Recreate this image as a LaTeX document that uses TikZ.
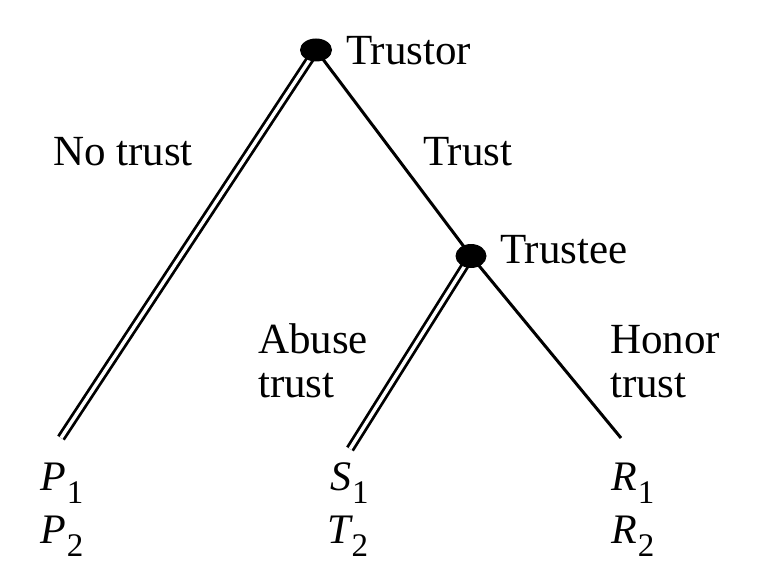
\documentclass[tikz,border=0pt]{standalone}
\usepackage{fontspec}
\setmainfont{Liberation Serif}
\usetikzlibrary{shapes.geometric,backgrounds}
\newcommand\mysub[1]{\kern1pt\raisebox{-13pt}{\fontsize{33}{33}\selectfont #1}}
\begin{document}
\begin{tikzpicture}[x=1pt,y=-1pt,
  lbl/.style={anchor=base west,inner sep=0pt,font=\fontsize{43}{46}\selectfont},
  pay/.style={anchor=base west,inner sep=0pt,font=\fontsize{42}{46}\selectfont\itshape},
  dot/.style={ellipse,fill=black,draw=none,inner sep=0pt,minimum width=#1},
  single/.style={line width=3pt},
  dbl/.style={line width=2.8pt,double,double distance=3.4pt}]
\useasboundingbox (0,0) rectangle (776,586);
% decision nodes
\node[dot=32pt,minimum height=23pt] (tor) at (316,50) {};
\node[dot=31pt,minimum height=24pt] (tee) at (471,256) {};
% end points
\coordinate (endP) at (61,438);
\coordinate (endS) at (350,449);
\coordinate (endR) at (621,438);
% branches
\begin{pgfonlayer}{background}
\draw[dbl] (tor.center) -- (endP);
\draw[single] (tor.center) -- (tee.center);
\draw[dbl] (tee.center) -- (endS);
\draw[single] (tee.center) -- (endR);
\end{pgfonlayer}
% labels
\node[lbl] (ltor) at (346,65) {Trustor};
\node[lbl] (ltee) at (500,263) {Trustee};
\node[lbl] (lno) at (53,165) {No trust};
\node[lbl] (ltr) at (423,165) {Trust};
\node[lbl] (lab1) at (258,353) {Abuse};
\node[lbl] (lab2) at (258,397) {trust};
\node[lbl] (lho1) at (610,353) {Honor};
\node[lbl] (lho2) at (610,397) {trust};
% payoffs
\node[pay] (p1) at (40,490) {P\mysub{\upshape 1}};
\node[pay] (p2) at (40,543) {P\mysub{\upshape 2}};
\node[pay] (s1) at (330,490) {S\mysub{\upshape 1}};
\node[pay] (t2) at (327,543) {T\mysub{\upshape 2}};
\node[pay] (r1) at (611,490) {R\mysub{\upshape 1}};
\node[pay] (r2) at (611,543) {R\mysub{\upshape 2}};
\end{tikzpicture}
\end{document}
